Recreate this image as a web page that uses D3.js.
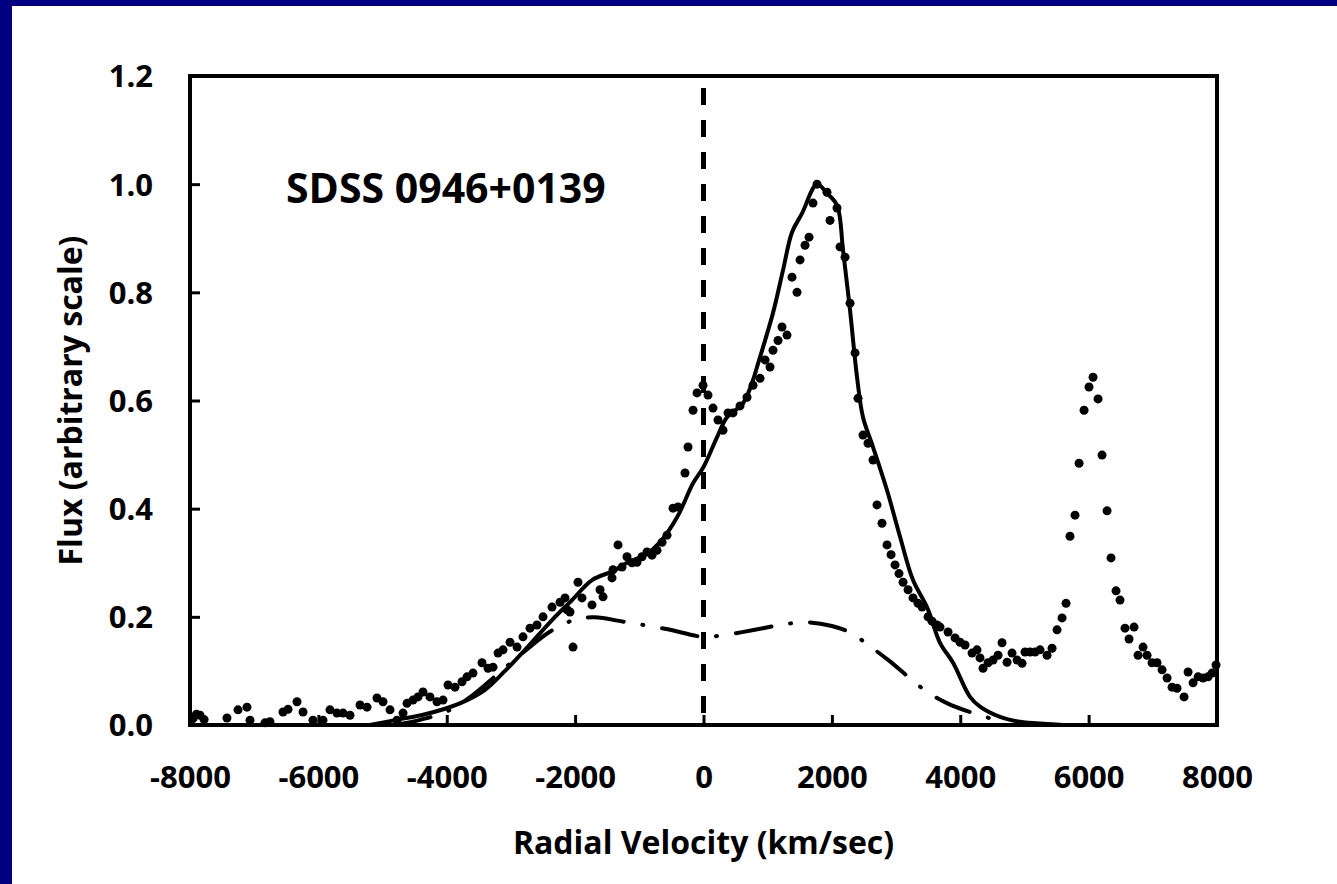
<!DOCTYPE html>
<html>
<head>
<meta charset="utf-8">
<script src="https://d3js.org/d3.v7.min.js"></script>
<style>
  html, body { margin: 0; padding: 0; background: #fff; }
  svg text { font-family: "Open Sans", "Noto Sans", sans-serif; font-weight: bold; fill: #000; }
</style>
</head>
<body>
<div id="chart-area"></div>
<script>
/*
*    SDSS 0946+0139 line profile
*/

// observed spectrum (dots)
var obsVel = [-7953, -7900, -7844, -7780, -7424, -7252, -7112, -7065, -6832, -6754,
    -6551, -6473, -6333, -6239, -6084, -5928, -5819, -5710, -5616, -5507,
    -5351, -5242, -5087, -4993, -4884, -4775, -4681, -4619, -4526, -4448,
    -4370, -4261, -4152, -4058, -3980, -3871, -3762, -3684, -3591, -3451,
    -3357, -3279, -3201, -3123, -3014, -2905, -2812, -2703, -2594, -2500,
    -2360, -2235, -2157, -2126, -2080, -2033, -1955, -1893, -1737, -1612,
    -1565, -1425, -1410, -1332, -1269, -1192, -1114, -1036, -958, -880,
    -802, -724, -646, -568, -475, -397, -288, -241, -163, -101,
    -7, 70, 148, 226, 304, 382, 460, 569, 678, 772,
    881, 959, 1036, 1083, 1161, 1223, 1301, 1379, 1457, 1504,
    1582, 1644, 1706, 1769, 1924, 1971, 2080, 2127, 2205, 2283,
    2361, 2407, 2485, 2563, 2641, 2703, 2781, 2859, 2922, 2984,
    3046, 3109, 3187, 3264, 3342, 3405, 3498, 3560, 3638, 3685,
    3810, 3919, 3997, 4075, 4184, 4261, 4308, 4355, 4433, 4511,
    4589, 4651, 4729, 4807, 4885, 4963, 5009, 5087, 5165, 5243,
    5352, 5430, 5508, 5586, 5648, 5710, 5788, 5851, 5929, 6006,
    6069, 6147, 6209, 6287, 6349, 6427, 6489, 6567, 6630, 6708,
    6770, 6848, 6910, 6988, 7066, 7144, 7222, 7300, 7377, 7487,
    7549, 7627, 7705, 7783, 7860, 7923, 7985];
var obsFlux = [0.012, 0.02, 0.018, 0.01, 0.013, 0.028, 0.033, 0.009, 0.004, 0.006,
    0.024, 0.029, 0.043, 0.024, 0.009, 0.009, 0.028, 0.022, 0.022, 0.018,
    0.037, 0.033, 0.05, 0.043, 0.028, 0.009, 0.022, 0.04, 0.046, 0.052,
    0.061, 0.052, 0.043, 0.046, 0.074, 0.07, 0.08, 0.089, 0.096, 0.115,
    0.105, 0.107, 0.133, 0.139, 0.153, 0.144, 0.163, 0.179, 0.185, 0.2,
    0.218, 0.227, 0.235, 0.213, 0.209, 0.144, 0.264, 0.235, 0.222, 0.25,
    0.237, 0.272, 0.287, 0.333, 0.292, 0.311, 0.3, 0.301, 0.311, 0.32,
    0.314, 0.323, 0.338, 0.351, 0.401, 0.403, 0.466, 0.514, 0.582, 0.614,
    0.628, 0.61, 0.586, 0.564, 0.545, 0.577, 0.577, 0.59, 0.606, 0.628,
    0.641, 0.675, 0.662, 0.693, 0.711, 0.736, 0.721, 0.828, 0.8, 0.86,
    0.887, 0.902, 0.965, 1.0, 0.985, 0.933, 0.956, 0.884, 0.865, 0.78,
    0.688, 0.604, 0.536, 0.521, 0.49, 0.407, 0.373, 0.333, 0.315, 0.296,
    0.28, 0.264, 0.25, 0.235, 0.225, 0.218, 0.2, 0.192, 0.185, 0.181,
    0.172, 0.161, 0.153, 0.148, 0.133, 0.139, 0.124, 0.105, 0.115, 0.12,
    0.129, 0.152, 0.116, 0.133, 0.12, 0.114, 0.135, 0.135, 0.135, 0.139,
    0.129, 0.142, 0.176, 0.198, 0.225, 0.349, 0.388, 0.484, 0.582, 0.625,
    0.643, 0.603, 0.499, 0.396, 0.309, 0.248, 0.231, 0.179, 0.159, 0.181,
    0.129, 0.144, 0.129, 0.115, 0.115, 0.102, 0.087, 0.07, 0.068, 0.052,
    0.098, 0.078, 0.089, 0.087, 0.089, 0.096, 0.111];

// total model fit (solid line)
var fitVel = [-5200, -4760, -4400, -4027, -3700, -3404, -3092, -2734, -2360, -2048,
    -1737, -1400, -1192, -900, -677, -412, -163, 0, 210, 366,
    616, 772, 834, 1083, 1239, 1379, 1535, 1769, 1925, 2080,
    2174, 2283, 2392, 2485, 2641, 2859, 3062, 3264, 3482, 3685,
    3888, 4152, 4308, 4620, 4931, 5352, 5600];
var fitFlux = [0, 0.01, 0.018, 0.03, 0.045, 0.065, 0.1, 0.145, 0.194, 0.231,
    0.268, 0.285, 0.3, 0.315, 0.338, 0.384, 0.447, 0.477, 0.532, 0.569,
    0.595, 0.638, 0.662, 0.762, 0.841, 0.911, 0.946, 1.0, 0.983, 0.961,
    0.878, 0.767, 0.643, 0.569, 0.514, 0.434, 0.348, 0.268, 0.218, 0.152,
    0.115, 0.052, 0.034, 0.015, 0.006, 0.002, 0];

// broad component (dash-dot line)
var compVel = [-4800, -4400, -4000, -3600, -3200, -2800, -2400, -2000, -1700, -1200,
    -600, 0, 300, 800, 1200, 1600, 2000, 2300, 2600, 2900,
    3200, 3500, 3800, 4200, 4600];
var compFlux = [0, 0.01, 0.025, 0.055, 0.095, 0.135, 0.172, 0.195, 0.199, 0.19,
    0.178, 0.163, 0.166, 0.176, 0.185, 0.19, 0.183, 0.17, 0.145, 0.118,
    0.088, 0.06, 0.04, 0.022, 0.008];

var xTicks = [-8000, -6000, -4000, -2000, 0, 2000, 4000, 6000, 8000];
var yTicks = [0, 0.2, 0.4, 0.6, 0.8, 1.0, 1.2];

var chartTitle = "SDSS 0946+0139";
var xLabel = "Radial Velocity (km/sec)";
var yLabel = "Flux (arbitrary scale)";

var W = 1337, H = 884;
var margin = {left: 190, right: 120, top: 76, bottom: 159};
var width = W - margin.left - margin.right;
var height = H - margin.top - margin.bottom;

var svg = d3.select("#chart-area")
    .append("svg")
        .attr("width", W)
        .attr("height", H);

// navy frame (top + left edge)
svg.append("rect").attr("width", W).attr("height", H).attr("fill", "#000080");
svg.append("rect").attr("x", 12).attr("y", 6)
    .attr("width", W - 12).attr("height", H - 6).attr("fill", "#fff");

var g = svg.append("g")
    .attr("transform", "translate(" + margin.left + "," + margin.top + ")");

var x = d3.scaleLinear().domain([-8000, 8000]).range([0, width]);
var y = d3.scaleLinear().domain([0, 1.2]).range([height, 0]);

// axes, ticks pointing inward
var xAxisCall = d3.axisBottom(x)
    .tickValues(xTicks)
    .tickSizeInner(-10)
    .tickSizeOuter(0)
    .tickPadding(63)
    .tickFormat(function(d){ return String(d); });   // plain hyphen, not U+2212
var yAxisCall = d3.axisLeft(y)
    .tickValues(yTicks)
    .tickSizeInner(-10)
    .tickSizeOuter(0)
    .tickPadding(37)
    .tickFormat(d3.format(".1f"));

var xAxisGroup = g.append("g")
    .attr("class", "x axis")
    .attr("transform", "translate(0," + height + ")")
    .call(xAxisCall);
var yAxisGroup = g.append("g")
    .attr("class", "y axis")
    .call(yAxisCall);

g.selectAll(".axis .domain").remove();
g.selectAll(".axis line").attr("stroke", "#000").attr("stroke-width", 3);
g.selectAll(".axis text")
    .attr("font-size", "31px")
    .attr("font-family", "'Open Sans', sans-serif")
    .attr("font-weight", "bold")
    .attr("fill", "#000");
xAxisGroup.selectAll("text").attr("dy", "0");
yAxisGroup.selectAll("text").attr("dy", "0.35em");

// plot frame
g.append("rect")
    .attr("width", width)
    .attr("height", height)
    .attr("fill", "none")
    .attr("stroke", "#000")
    .attr("stroke-width", 4);

// zero-velocity marker
g.append("line")
    .attr("x1", x(0)).attr("x2", x(0))
    .attr("y1", y(1.178)).attr("y2", y(0))
    .attr("stroke", "#000")
    .attr("stroke-width", 5)
    .attr("stroke-dasharray", "17,15");

var line = d3.line()
    .x(function(d){ return x(d[0]); })
    .y(function(d){ return y(d[1]); })
    .curve(d3.curveCatmullRom.alpha(0.5));

var compData = d3.zip(compVel, compFlux);
var fitData = d3.zip(fitVel, fitFlux);
var obsData = d3.zip(obsVel, obsFlux);

g.append("path")
    .datum(compData)
    .attr("d", line)
    .attr("fill", "none")
    .attr("stroke", "#000")
    .attr("stroke-width", 4)
    .attr("stroke-linecap", "round")
    .attr("stroke-dasharray", "36,19,1,19");

g.append("path")
    .datum(fitData)
    .attr("d", line)
    .attr("fill", "none")
    .attr("stroke", "#000")
    .attr("stroke-width", 4)
    .attr("stroke-linejoin", "round");

g.selectAll("circle.obs")
    .data(obsData)
    .enter()
    .append("circle")
        .attr("class", "obs")
        .attr("cx", function(d){ return x(d[0]); })
        .attr("cy", function(d){ return y(d[1]); })
        .attr("r", 4.5)
        .attr("fill", "#000");

// labels
g.append("text")
    .attr("x", 96)
    .attr("y", 127)
    .attr("font-size", "41px")
    .text(chartTitle);

g.append("text")
    .attr("x", width / 2)
    .attr("y", height + 129)
    .attr("font-size", "32px")
    .attr("text-anchor", "middle")
    .text(xLabel);

g.append("text")
    .attr("x", -(height / 2))
    .attr("y", -108)
    .attr("font-size", "32px")
    .attr("text-anchor", "middle")
    .attr("transform", "rotate(-90)")
    .text(yLabel);
</script>
</body>
</html>
